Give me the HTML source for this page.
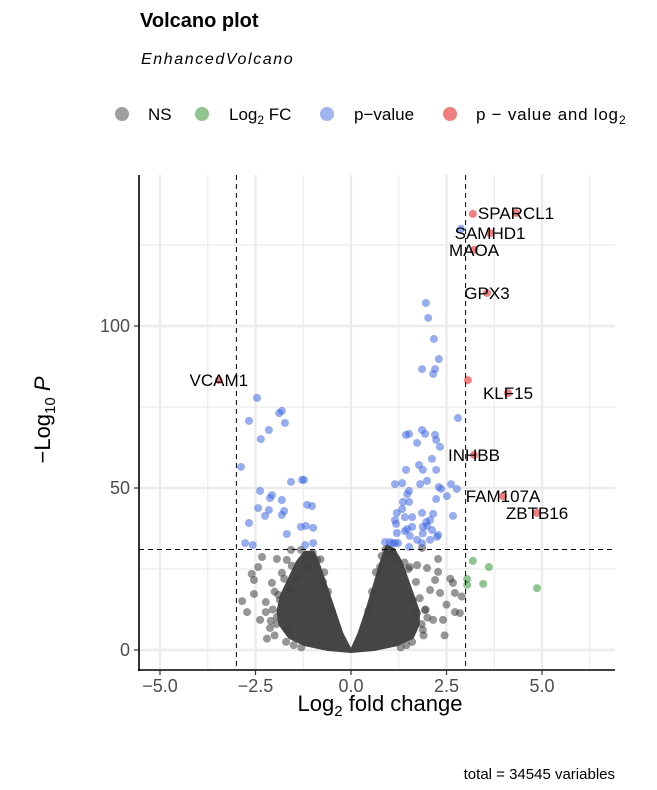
<!DOCTYPE html>
<html><head><meta charset="utf-8"><style>
html,body{margin:0;padding:0;background:#fff;}
svg{display:block;font-family:"Liberation Sans",sans-serif;}
</style></head><body>
<svg id="chart" width="657" height="790" viewBox="0 0 657 790">
<text x="140" y="27" font-size="20" font-weight="bold">Volcano plot</text>
<text x="141" y="64" font-size="16" font-style="italic" letter-spacing="1.6">EnhancedVolcano</text>
<g font-size="17">
 <g><circle cx="122" cy="114" r="7" fill="rgba(64,64,64,0.5)"/><text x="148" y="120">NS</text></g>
 <g><circle cx="202" cy="114" r="7" fill="rgba(34,139,34,0.5)"/><text x="229" y="120">Log<tspan font-size="12" dy="4">2</tspan><tspan dy="-4"> FC</tspan></text></g>
 <g><circle cx="327" cy="114" r="7" fill="rgba(65,105,225,0.5)"/><text x="354" y="120">p−value</text></g>
 <g><circle cx="450" cy="114" r="7" fill="rgba(230,0,0,0.5)"/><text x="476" y="120" textLength="142">p − value and log</text><text x="619" y="124" font-size="12">2</text></g>
</g>
<g id="grid"></g>
<g id="marks"></g>
<g id="axes"></g>
<text x="380" y="711" font-size="22" text-anchor="middle" fill="#000">Log<tspan font-size="15" dy="5">2</tspan><tspan dy="-5"> fold change</tspan></text>
<text transform="translate(50,420) rotate(-90)" font-size="22" text-anchor="middle">−Log<tspan font-size="15" dy="5">10</tspan><tspan dy="-5" font-style="italic"> P</tspan></text>
<text x="615" y="779" font-size="15" text-anchor="end">total = 34545 variables</text>
</svg>
<script>
const xTicks=[-5,-2.5,0,2.5,5];
const xTickLabels=["−5.0","−2.5","0.0","2.5","5.0"];
const xMinor=[-3.75,-1.25,1.25,3.75,6.25];
const yTicks=[0,50,100];
const yTickLabels=["0","50","100"];
const yMinor=[25,75,125];
const fcCut=[-3,3];
const pCut=[31];
const redX=[3.19,4.32,3.64,3.22,3.56,3.06,4.11,3.22,3.98,4.87,-3.46];
const redY=[134.6,134.9,128.7,123.5,110.2,83.3,79.3,60.2,47.5,42.3,83.3];
const labelNames=["","SPARCL1","SAMHD1","MAOA","GPX3","","KLF15","INHBB","FAM107A","ZBTB16","VCAM1"];
const greenX=[3.19,3.61,3.04,3.04,3.46,4.87];
const greenY=[27.5,25.6,21.9,20.1,20.4,19.1];
const blueX=[-2.46,-2.67,-1.88,-1.81,-1.73,-2.15,-2.36,-2.88,-1.57,-1.28,-1.23,-2.38,-2.07,-2.12,-1.81,-2.43,-2.15,-1.75,-2.25,-1.81,-1.15,-1.02,-2.67,-1.31,-1.18,-0.99,-1.68,-2.77,-2.57,-1.20,-0.99,
 2.88,1.96,2.02,2.17,2.30,1.86,2.20,2.15,2.80,1.44,1.52,1.86,1.94,2.20,2.23,1.73,2.33,2.12,1.78,1.88,2.23,1.44,1.15,1.34,1.99,1.81,2.30,2.62,2.77,2.36,2.51,2.23,1.52,1.47,1.36,1.52,1.20,1.34,1.15,1.41,1.60,1.86,2.15,2.07,1.99,1.88,1.18,1.41,1.60,1.54,1.20,2.25,2.07,2.67,1.02,0.89,1.15,1.86,1.52,1.47,2.28,1.97,1.10,1.23,2.12,1.73,1.88];
const blueY=[77.8,70.7,73.1,73.8,70.1,67.9,65.1,56.5,51.9,52.5,52.5,49.1,47.8,46.9,46.3,43.8,43.2,42.9,41.4,41.7,44.8,44.4,39.2,38.0,38.3,37.7,35.8,33.0,32.4,32.4,33.0,
 130,107.1,102.5,96.0,89.8,86.7,86.7,85.2,71.6,66.4,66.7,67.9,66.7,66.4,64.8,63.9,62.7,59.0,57.1,55.6,55.6,55.6,51.2,51.5,52.2,51.2,50.3,51.2,49.7,49.7,47.5,46.6,49.1,48.1,45.7,45.7,42.3,43.5,40.1,41.0,41.0,42.3,42.0,40.1,38.3,38.0,38.9,36.7,38.0,35.2,36.1,34.9,34.0,41.4,33.3,33.3,33.0,33.0,31.8,37.3,35.5,39.5,33.0,33.0,37.0,34.0,36.0];
const grayX=[-2.85,-2.72,-2.54,-2.54,-2.43,-2.33,-1.94,-1.68,-1.57,-1.31,-2.38,-2.12,-2.23,-2.23,-2.07,-1.81,-0.89,-1.15,-1.41,-1.60,-1.86,-1.94,-1.68,-0.99,-0.73,
 2.28,2.28,2.20,2.67,2.72,2.85,2.72,2.41,2.15,2.33,2.07,1.94,1.88,1.73,1.99,1.54,1.86,0.76,1.02,1.62,1.73,2.5,2.6,2.45,2.9,-2.6,-2.2,-2.0,
 -2.0,-1.95,-2.05,-1.7,-1.5,-1.3,-0.7,-0.6,-0.5,-1.2,-1.55,-1.75,-1.9,-2.1,-0.8,-1.0,
 1.9,1.85,1.95,1.6,1.45,1.3,0.65,0.55,0.45,1.2,1.5,1.7,1.8,2.0,0.8,0.9,1.1,1.4];
const grayY=[15.1,11.7,17.3,21.6,25.6,28.7,28.1,27.8,30.9,30.9,9.3,6.8,14.8,11.7,20.7,23.8,27.8,25.6,22.5,18.5,15.4,10.2,6.2,28.7,21.0,
 28.1,24.1,21.6,20.7,17.6,11.4,11.7,9.3,9.3,17.6,18.5,12.3,6.2,26.2,25.3,25.6,31.5,25.6,30.2,15.4,11.4,14.0,22.0,4.5,16.5,23.5,3.5,18.0,
 4.5,8.0,12.5,2.5,1.5,0.8,24,18,12,29,26,22,17,9,28,30,
 4.5,8.0,12.5,2.5,1.5,0.8,24,18,12,28,25,21,16,10,29,31,30,27];
const coreLeftX=[0,-0.6,-1.2,-1.6,-1.85,-1.9,-1.8,-1.6,-1.4,-1.2,-1.0,-0.85,-0.65,-0.45,-0.25,-0.05];
const coreLeftY=[-0.3,0.3,1.8,4,8,12,17,22,27,30,30,26,19,12,5,0.5];
const coreRightX=[0,0.6,1.2,1.6,1.75,1.75,1.6,1.45,1.3,1.1,0.95,0.8,0.6,0.42,0.22,0.05];
const coreRightY=[-0.3,0.3,1.8,4,8,12,17,22,27,31,32,27,19,12,5,0.5];

const NS="http://www.w3.org/2000/svg";
const L=139,R=615,T=175,B=670;
const xs=v=>351+v*38.2;
const ys=v=>650-v*3.24;
function mk(tag,attrs,parent){const e=document.createElementNS(NS,tag);for(const k in attrs)e.setAttribute(k,attrs[k]);parent.appendChild(e);return e;}
const grid=document.getElementById('grid'),marks=document.getElementById('marks'),axes=document.getElementById('axes');
xMinor.forEach(v=>{const e=mk('line',{x1:xs(v),x2:xs(v),y1:T,y2:B,stroke:'#ebebeb','stroke-width':1.2},grid);

});
yMinor.forEach(v=>{const e=mk('line',{x1:L,x2:R,y1:ys(v),y2:ys(v),stroke:'#ebebeb','stroke-width':1.2},grid);

});
xTicks.forEach(v=>{const e=mk('line',{x1:xs(v),x2:xs(v),y1:T,y2:B,stroke:'#ebebeb','stroke-width':2.4},grid);

});
yTicks.forEach(v=>{const e=mk('line',{x1:L,x2:R,y1:ys(v),y2:ys(v),stroke:'#ebebeb','stroke-width':2.4},grid);

});
function poly(X,Y,name){const pts=X.map((x,i)=>xs(x)+','+ys(Y[i])).join(' ');
const e=mk('polygon',{points:pts,fill:'#454545','stroke':'#454545','stroke-width':4,'stroke-linejoin':'round'},marks);

}
poly(coreLeftX,coreLeftY,'ns-dense-core-left');
poly(coreRightX,coreRightY,'ns-dense-core-right');
function pts(X,Y,fill,name){X.forEach((x,i)=>{const e=mk('circle',{cx:xs(x),cy:ys(Y[i]),r:4,fill:fill},marks);

});}
pts(grayX,grayY,'rgba(64,64,64,0.55)','point-ns');
pts(greenX,greenY,'rgba(34,139,34,0.5)','point-log2fc');
pts(blueX,blueY,'rgba(65,105,225,0.55)','point-pvalue');
pts(redX,redY,'rgba(230,0,0,0.5)','point-pvalue-and-log2fc');
fcCut.forEach(v=>{const e=mk('line',{x1:xs(v),x2:xs(v),y1:T,y2:B,stroke:'#000','stroke-width':1,'stroke-dasharray':'5,4'},marks);

});
pCut.forEach(v=>{const e=mk('line',{x1:L,x2:R,y1:ys(v),y2:ys(v),stroke:'#000','stroke-width':1,'stroke-dasharray':'5,4'},marks);

});
labelNames.forEach((n,i)=>{if(!n)return;
const e=mk('text',{x:xs(redX[i]),y:ys(redY[i])+6,'font-size':17,'text-anchor':'middle',fill:'#000'},marks);
e.textContent=n;

});
let e=mk('line',{x1:L,x2:L,y1:T,y2:B+1,stroke:'#000','stroke-width':1.6},axes);


e=mk('line',{x1:L-1,x2:R,y1:B,y2:B,stroke:'#000','stroke-width':1.6},axes);


xTicks.forEach((v,i)=>{const t=mk('line',{x1:xs(v),x2:xs(v),y1:B,y2:B+5,stroke:'#333','stroke-width':1.2},axes);


const l=mk('text',{x:xs(v),y:B+22,'font-size':18,'text-anchor':'middle',fill:'#4d4d4d'},axes);l.textContent=xTickLabels[i];

});
yTicks.forEach((v,i)=>{const t=mk('line',{x1:L-5,x2:L,y1:ys(v),y2:ys(v),stroke:'#333','stroke-width':1.2},axes);


const l=mk('text',{x:L-9,y:ys(v)+6,'font-size':18,'text-anchor':'end',fill:'#4d4d4d'},axes);l.textContent=yTickLabels[i];

});
</script>
</body></html>
